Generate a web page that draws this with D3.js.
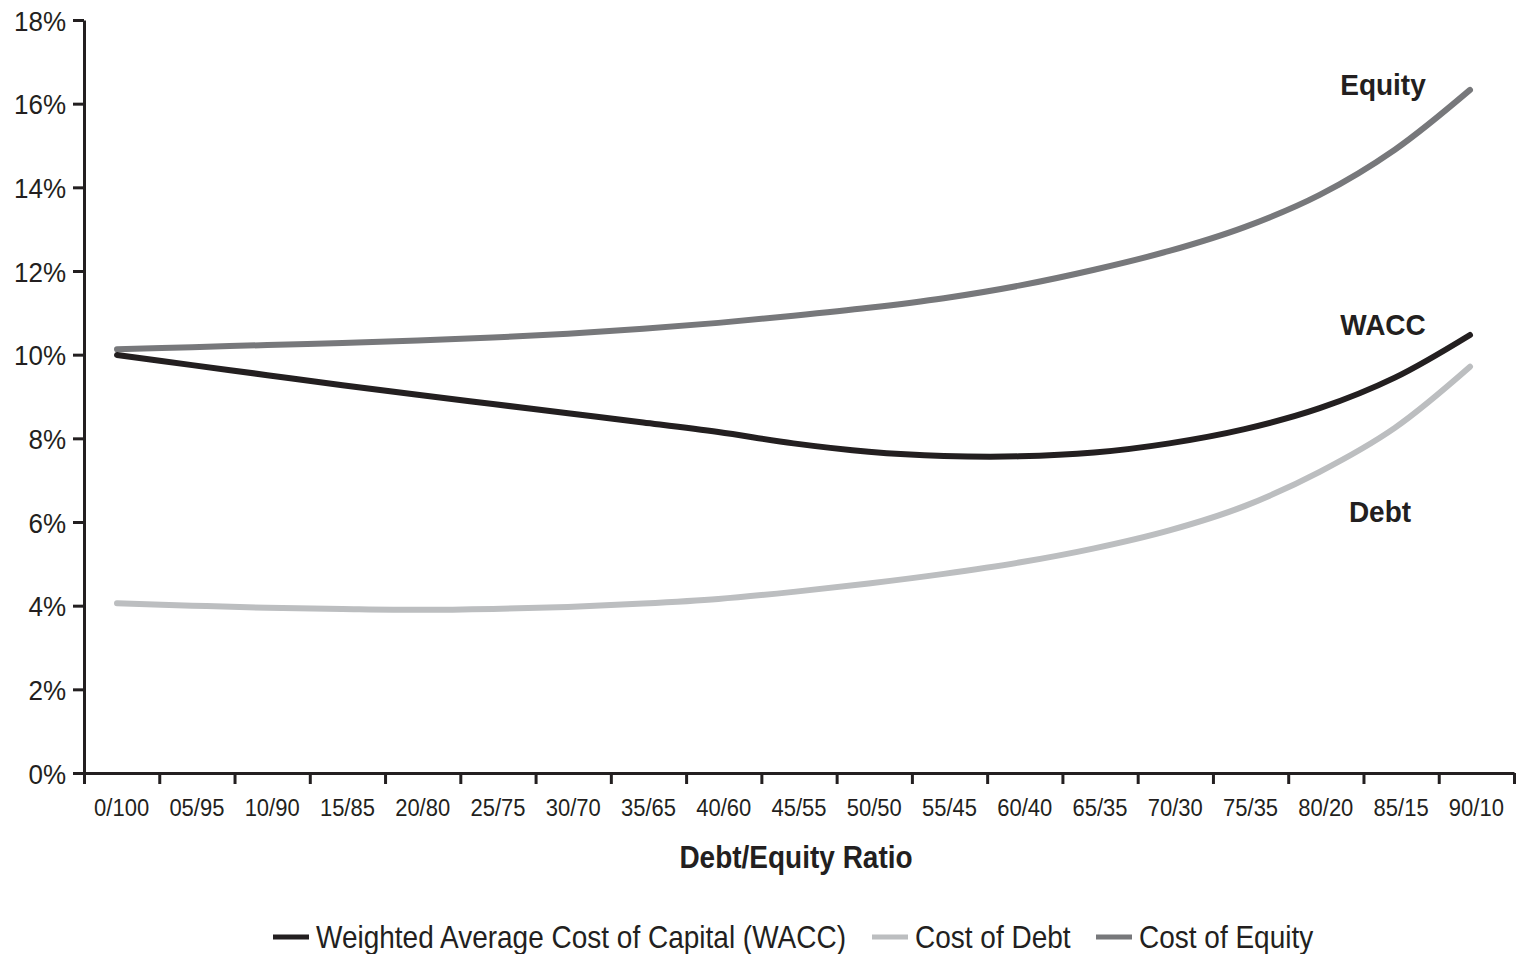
<!DOCTYPE html>
<html>
<head>
<meta charset="utf-8">
<script src="https://cdn.jsdelivr.net/npm/d3@7"></script>
<style>
  body { margin: 0; background: #fff; }
  text { font-family: "Liberation Sans", Arial, sans-serif; fill: #231f20; }
</style>
</head>
<body>
<script>
(function() {
// debt/equity ratio categories
const categories = ["0/100", "05/95", "10/90", "15/85", "20/80", "25/75", "30/70", "35/65", "40/60", "45/55",
    "50/50", "55/45", "60/40", "65/35", "70/30", "75/35", "80/20", "85/15", "90/10"];

// values in %
const wacc = [9.99, 9.75, 9.51, 9.27, 9.04, 8.82, 8.6, 8.38, 8.15, 7.88, 7.68, 7.58, 7.57, 7.66, 7.88, 8.22, 8.72, 9.45, 10.47];
const costOfDebt = [4.06, 4.0, 3.95, 3.92, 3.9, 3.92, 3.97, 4.05, 4.16, 4.33, 4.53, 4.76, 5.03, 5.37, 5.8, 6.38, 7.2, 8.25, 9.71];
const costOfEquity = [10.13, 10.18, 10.23, 10.28, 10.34, 10.41, 10.5, 10.62, 10.76, 10.93, 11.12, 11.35, 11.65, 12.03, 12.48, 13.05, 13.82, 14.9, 16.33];

const yTicks = [0, 2, 4, 6, 8, 10, 12, 14, 16, 18];

const width = 1523, height = 954;
const left = 84, right = 1514, top = 20, bottom = 773;

const svg = d3.select("body").append("svg")
    .attr("width", width)
    .attr("height", height);

const xBand = d3.scaleBand().domain(categories).range([left, right]);
const xIdx = d3.scaleLinear().domain([0, categories.length]).range([left, right]);
const xLine = d3.scalePoint().domain(categories).range([117, 1470]);
const y = d3.scaleLinear().domain([0, 18]).range([bottom, top]);

// stretch text a little taller, like the original print
function tall(sel, k) {
    sel.each(function() {
        const t = d3.select(this);
        const tx = +t.attr("x") || 0, ty = +t.attr("y") || 0;
        t.attr("x", 0).attr("y", 0)
            .attr("transform", "translate(" + tx + "," + ty + ") scale(1," + k + ")");
    });
}

// Y axis
const yAxis = svg.append("g")
    .attr("transform", "translate(" + left + ",0)")
    .call(d3.axisLeft(y).tickValues(yTicks).tickFormat(d => d + "%").tickSize(11).tickSizeOuter(0));
yAxis.select(".domain").attr("stroke", "#231f20").attr("stroke-width", 3);
yAxis.selectAll(".tick line").attr("stroke", "#231f20").attr("stroke-width", 3);
yAxis.selectAll("text")
    .attr("x", -18)
    .attr("dy", "0.36em")
    .style("font-size", "26px")
    .style("fill", "#231f20")
    .call(tall, 1.08);

// X axis: tick marks on band edges
const xTicks = svg.append("g")
    .attr("transform", "translate(0," + bottom + ")")
    .call(d3.axisBottom(xIdx).tickValues(d3.range(0, categories.length + 1)).tickFormat("").tickSize(11).tickSizeOuter(0));
xTicks.select(".domain").attr("stroke", "#231f20").attr("stroke-width", 3);
xTicks.selectAll(".tick line").attr("stroke", "#231f20").attr("stroke-width", 3);

// X axis labels
const xLabels = svg.append("g")
    .attr("transform", "translate(0," + bottom + ")")
    .call(d3.axisBottom(xBand).tickSize(0));
xLabels.select(".domain").remove();
xLabels.selectAll("text")
    .attr("y", 26)
    .attr("dy", "0.71em")
    .style("font-size", "22px")
    .style("fill", "#231f20")
    .call(tall, 1.1);

// X axis title
svg.append("text")
    .attr("x", 796)
    .attr("y", 868)
    .attr("text-anchor", "middle")
    .style("font-size", "28px")
    .style("font-weight", "bold")
    .text("Debt/Equity Ratio")
    .call(tall, 1.1);

const series = [
    { name: "Weighted Average Cost of Capital (WACC)", values: wacc, color: "#231f20" },
    { name: "Cost of Debt", values: costOfDebt, color: "#bcbec0" },
    { name: "Cost of Equity", values: costOfEquity, color: "#77787b" }
];

const line = d3.line()
    .x((d, i) => xLine(categories[i]))
    .y(d => y(d))
    .curve(d3.curveCatmullRom.alpha(0.5));

// draw equity, debt, then wacc on top
[series[2], series[1], series[0]].forEach(s => {
    svg.append("path")
        .datum(s.values)
        .attr("fill", "none")
        .attr("stroke", s.color)
        .attr("stroke-width", 6)
        .attr("stroke-linecap", "round")
        .attr("d", line);
});

// labels near line ends
const endLabels = [
    { text: "Equity", x: 1383, y: 95 },
    { text: "WACC", x: 1383, y: 335 },
    { text: "Debt", x: 1380, y: 522 }
];
svg.selectAll(".end-label")
    .data(endLabels)
    .enter().append("text")
    .attr("class", "end-label")
    .attr("x", d => d.x)
    .attr("y", d => d.y)
    .attr("text-anchor", "middle")
    .style("font-size", "28px")
    .style("font-weight", "bold")
    .text(d => d.text)
    .call(tall, 1.08);

// Legend
const legendPos = [273, 872, 1096];
const legend = svg.selectAll(".legend")
    .data(series)
    .enter().append("g")
    .attr("class", "legend")
    .attr("transform", (d, i) => "translate(" + legendPos[i] + ",937)");
legend.append("line")
    .attr("x1", 0).attr("x2", 36)
    .attr("y1", 0).attr("y2", 0)
    .attr("stroke", d => d.color)
    .attr("stroke-width", 5);
legend.append("text")
    .attr("x", 43)
    .attr("dy", "0.36em")
    .style("font-size", "28px")
    .text(d => d.name)
    .call(tall, 1.12);
})();
</script>
</body>
</html>
